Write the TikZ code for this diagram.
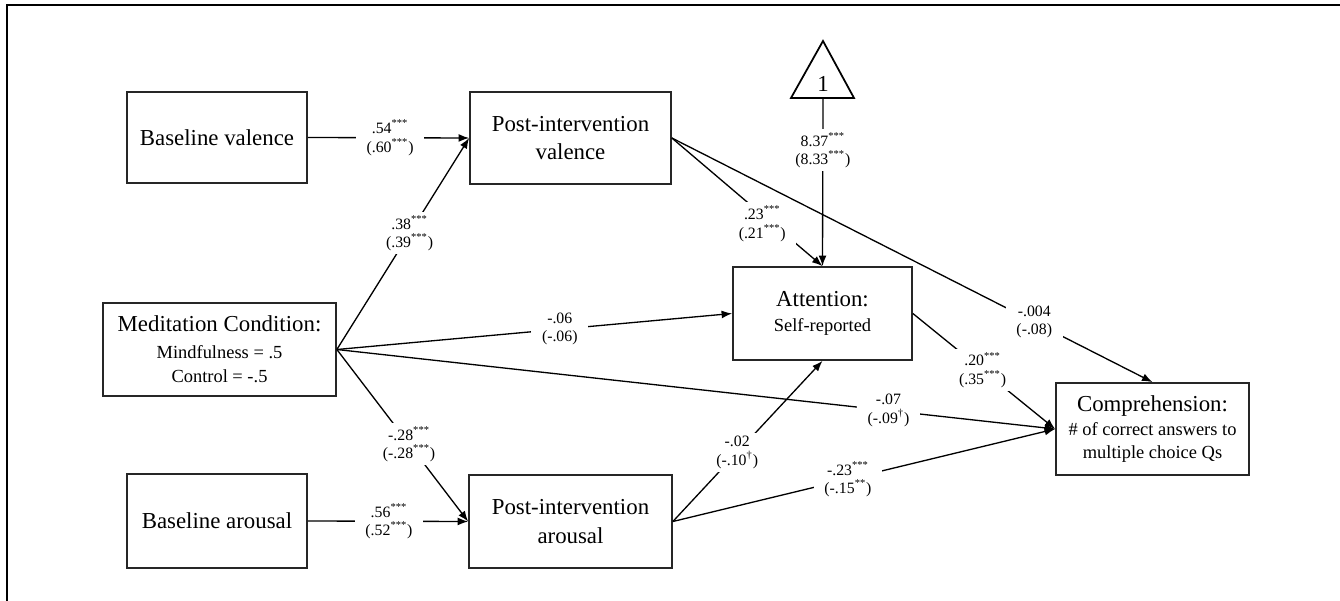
\documentclass[tikz,border=0pt]{standalone}
\usepackage{fontspec}
\setmainfont{Liberation Serif}
\usetikzlibrary{arrows.meta}
\newcommand\tstar{\textsuperscript{***}}
\newcommand\dstar{\textsuperscript{**}}
\newcommand\mydag{\textsuperscript{\textdagger}}
\newcommand\sbt{\fontsize{10.5}{12.5}\selectfont}
\begin{document}
\begin{tikzpicture}[x=0.02cm,y=-0.02cm,
  box/.style={draw=black!85, line width=1pt, inner sep=0pt, align=center, font=\fontsize{13}{16}\selectfont},
  arr/.style={draw=black, line width=0.75pt, -{Latex[length=6pt,width=4.5pt]}},
  lab/.style={fill=white, inner xsep=6pt, inner ysep=2pt, align=center, font=\fontsize{9}{10.5}\selectfont}]
\useasboundingbox (0,0) rectangle (1340,601);
% frame
\draw[line width=1.2pt] (7,601) -- (7,5) -- (1340,5);
% boxes
\node[box, minimum width=3.6cm, minimum height=1.82cm] (bv) at (217,137.5) {Baseline valence};
\node[box, minimum width=4.02cm, minimum height=1.84cm] (pv) at (570.5,138) {Post-intervention\\valence};
\node[box, minimum width=4.66cm, minimum height=1.86cm] (med) at (219.5,349.5) {Meditation Condition:\\[-1pt]{\sbt Mindfulness = .5}\\[-2pt]{\sbt Control = -.5}};
\node[box, minimum width=3.58cm, minimum height=1.86cm] (att) at (822.5,313.5) {Attention:\\[-2pt]{\sbt Self-reported}};
\node[box, minimum width=3.6cm, minimum height=1.88cm] (ba) at (217,521) {Baseline arousal};
\node[box, minimum width=4.06cm, minimum height=1.86cm] (pa) at (570.5,521.5) {Post-intervention\\arousal};
\node[box, minimum width=3.86cm, minimum height=1.84cm] (comp) at (1152.5,429) {Comprehension:\\[-2pt]{\sbt \# of correct answers to}\\[-3pt]{\sbt multiple choice Qs}};
% intercept triangle
\draw[line width=1pt, line join=miter] (823,41) -- (854,98) -- (791,98) -- cycle;
\node[font=\fontsize{13}{16}\selectfont, inner sep=0pt] (one) at (823,84) {1};
\coordinate (tri) at (823,98);
% connectors
\draw[arr] (bv.east) -- node[lab,pos=0.51] {.54\tstar\\(.60\tstar)} (pv.west);
\draw[arr] (med.east) -- node[lab,pos=0.55] {.38\tstar\\(.39\tstar)} (pv.west);
\draw[arr] (med.east) -- node[lab,pos=0.564] {-.06\\(-.06)} (att.west);
\draw[arr] (med.east) -- node[lab,pos=0.768] {-.07\\(-.09\mydag)} (comp.west);
\draw[arr] (med.east) -- node[lab,pos=0.55] {-.28\tstar\\(-.28\tstar)} (pa.west);
\draw[arr] (ba.east) -- node[lab,pos=0.506] {.56\tstar\\(.52\tstar)} (pa.west);
\draw[arr] (pv.east) -- node[lab,pos=0.6,yshift=-5] {.23\tstar\\(.21\tstar)} (att.north);
\draw[arr] (pv.east) -- node[lab,pos=0.754] {-.004\\(-.08)} (comp.north);
\draw[arr] (att.east) -- node[lab,pos=0.49] {.20\tstar\\(.35\tstar)} (comp.west);
\draw[arr] (pa.east) -- node[lab,pos=0.43] {-.02\\(-.10\mydag)} (att.south);
\draw[arr] (pa.east) -- node[lab,pos=0.458] {-.23\tstar\\(-.15\dstar)} (comp.west);
\draw[arr] (tri) -- node[lab,pos=0.31] {8.37\tstar\\(8.33\tstar)} (att.north);
\end{tikzpicture}
\end{document}
